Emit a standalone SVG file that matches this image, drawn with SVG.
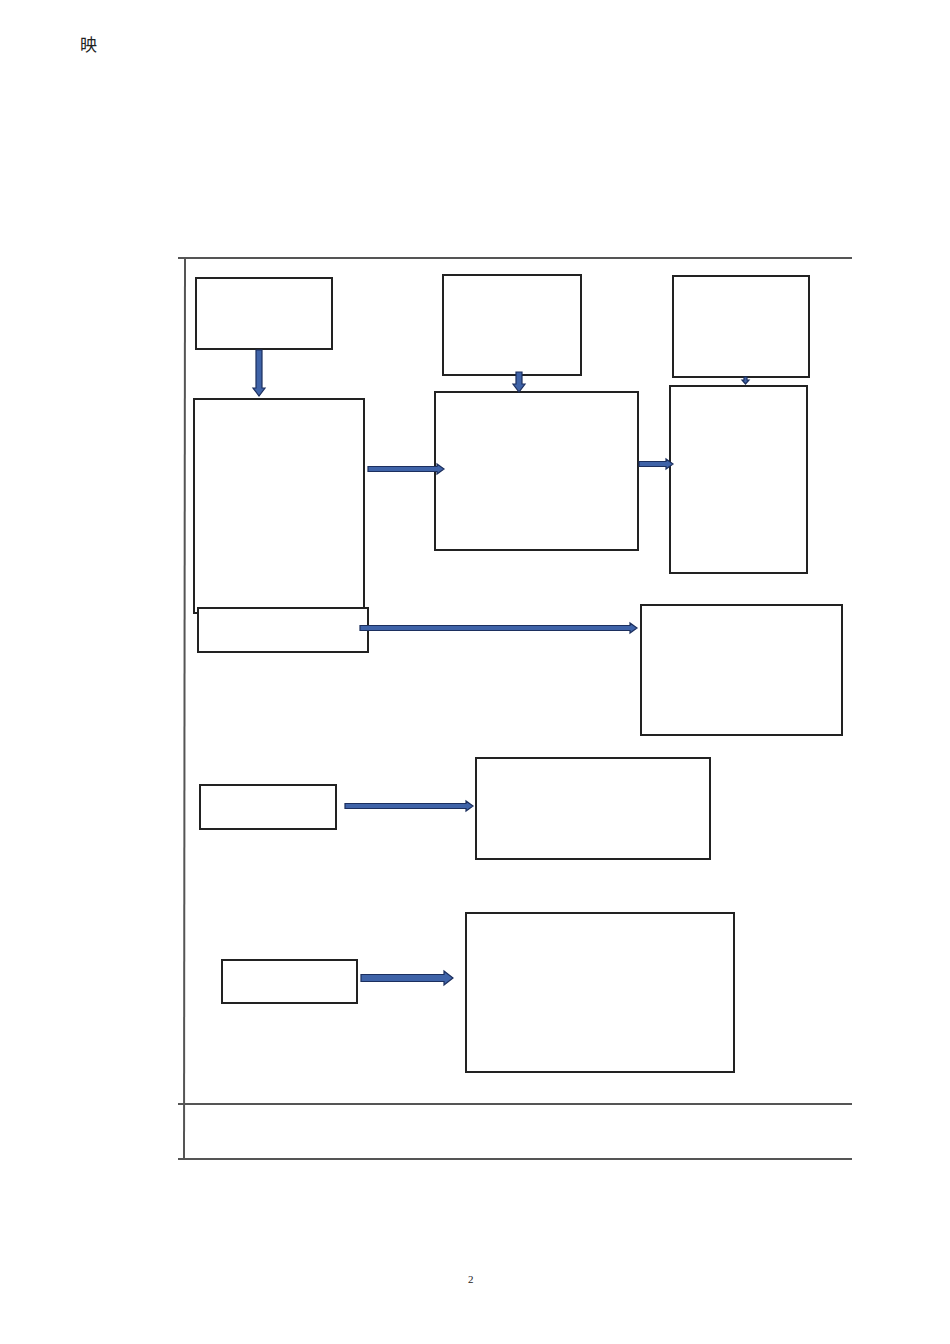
<svg xmlns="http://www.w3.org/2000/svg" width="950" height="1344" viewBox="0 0 950 1344">
<style>
.frame{stroke:#555;stroke-width:2;fill:none}
.box{fill:#fff;stroke:#222;stroke-width:2}
.arr{fill:#3f63a8;stroke:#1c2f5e;stroke-width:1.2;stroke-linejoin:miter}
.cjk{font-family:"Noto Sans CJK SC","Noto Sans CJK JP",sans-serif;font-size:17px;fill:#222}
.pg{font-family:"Liberation Serif",serif;font-size:11px;fill:#222}
</style>
<rect width="950" height="1344" fill="#fff"/>
<text class="cjk" x="80" y="51">映</text>
<g id="frame">
<line class="frame" x1="178" y1="258" x2="852" y2="258"/>
<line class="frame" x1="185" y1="258" x2="184" y2="1160"/>
<line class="frame" x1="178" y1="1104" x2="852" y2="1104"/>
<line class="frame" x1="178" y1="1159" x2="852" y2="1159"/>
</g>
<g id="n1"><rect class="box" x="196" y="278" width="136" height="71"/></g>
<g id="n2"><rect class="box" x="443" y="275" width="138" height="100"/></g>
<g id="n3"><rect class="box" x="673" y="276" width="136" height="101"/></g>
<g id="n4"><rect class="box" x="194" y="399" width="170" height="214"/></g>
<g id="n5"><rect class="box" x="198" y="608" width="170" height="44"/></g>
<g id="n6"><rect class="box" x="435" y="392" width="203" height="158"/></g>
<g id="n7"><rect class="box" x="670" y="386" width="137" height="187"/></g>
<g id="n8"><rect class="box" x="641" y="605" width="201" height="130"/></g>
<g id="n9"><rect class="box" x="200" y="785" width="136" height="44"/></g>
<g id="n10"><rect class="box" x="476" y="758" width="234" height="101"/></g>
<g id="n11"><rect class="box" x="222" y="960" width="135" height="43"/></g>
<g id="n12"><rect class="box" x="466" y="913" width="268" height="159"/></g>
<g id="connectors">
<polygon class="arr" points="256,350 262,350 262,388 265,388 259,396 253,388 256,388"/>
<polygon class="arr" points="516,372 522,372 522,384 525,384 519,392 513,384 516,384"/>
<polygon class="arr" points="744,377 747,377 747,380 749,380 745.5,384 742,380 744,380"/>
<polygon class="arr" points="368,466.5 437,466.5 437,464 444,469 437,474 437,471.5 368,471.5"/>
<polygon class="arr" points="639,461.5 666,461.5 666,459 673,464 666,469 666,466.5 639,466.5"/>
<polygon class="arr" points="360,625.5 630,625.5 630,623 637,628 630,633 630,630.5 360,630.5"/>
<polygon class="arr" points="345,803.5 466,803.5 466,801 473,806 466,811 466,808.5 345,808.5"/>
<polygon class="arr" points="361,974.5 444,974.5 444,971 453,978 444,985 444,981.5 361,981.5"/>
</g>
<text class="pg" x="468" y="1283">2</text>
</svg>
